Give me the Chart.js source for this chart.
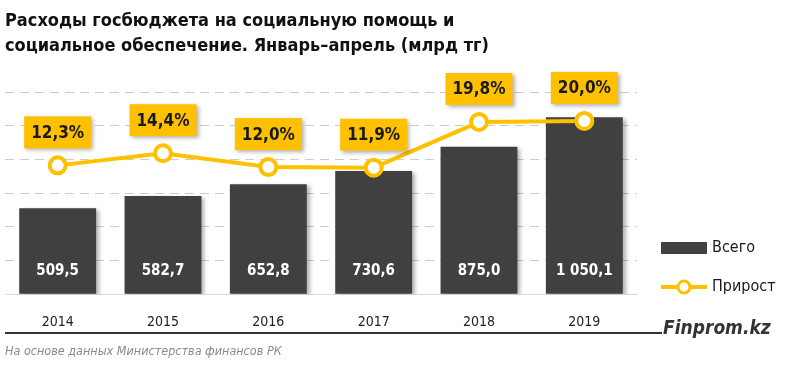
<!DOCTYPE html>
<html>
<head>
<meta charset="utf-8">
<script src="https://cdn.jsdelivr.net/npm/chart.js@4.4.1/dist/chart.umd.min.js"></script>
<style>
    html, body { margin: 0; padding: 0; background: #fff; }
    #wrap { width: 800px; height: 383px; position: relative; }
</style>
</head>
<body>
<div id="wrap"><canvas id="rashodyChart" width="800" height="383"></canvas></div>
<script>
// данные с картинки
const years = ['2014', '2015', '2016', '2017', '2018', '2019'];
const vsego = [509.5, 582.7, 652.8, 730.6, 875.0, 1050.1];
const prirost = [12.3, 14.4, 12.0, 11.9, 19.8, 20.0];

const titleLines = [
    'Расходы госбюджета на социальную помощь и',
    'социальное обеспечение. Январь–апрель (млрд тг)'
];
const legendNames = ['Всего', 'Прирост'];
const sourceText = 'На основе данных Министерства финансов РК';
const brandText = 'Finprom.kz';

const FONT = "'DejaVu Sans Condensed', 'Noto Sans', sans-serif";
const YELLOW = '#FFC000';
const DARK = '#404040';

// 1050.1 -> "1 050,1"
function fmtNum(v) {
    let parts = v.toFixed(1).split('.');
    let int = parts[0].replace(/\B(?=(\d{3})+(?!\d))/g, ' ');
    return int + ',' + parts[1];
}

// тень под столбцами
const shadowPlugin = {
    id: 'shadows',
    beforeDatasetDraw(chart, args) {
        if (args.index === 0) {
            chart.ctx.save();
            chart.ctx.shadowColor = 'rgba(0,0,0,0.3)';
            chart.ctx.shadowBlur = 4;
            chart.ctx.shadowOffsetX = 3;
            chart.ctx.shadowOffsetY = 2;
        }
    },
    afterDatasetDraw(chart, args) {
        if (args.index === 0) chart.ctx.restore();
    }
};

// подписи, легенда, заголовок, источник
const extrasPlugin = {
    id: 'extras',
    afterDraw(chart) {
        const ctx = chart.ctx;
        ctx.save();

        // заголовок
        ctx.fillStyle = '#111';
        ctx.font = 'bold 18px ' + FONT;
        ctx.textAlign = 'left';
        ctx.textBaseline = 'alphabetic';
        ctx.fillText(titleLines[0], 5, 26);
        ctx.fillText(titleLines[1], 5, 51);

        // значения внутри столбцов
        const barMeta = chart.getDatasetMeta(0);
        ctx.font = 'bold 15px ' + FONT;
        ctx.fillStyle = '#fff';
        ctx.textAlign = 'center';
        ctx.textBaseline = 'middle';
        barMeta.data.forEach((bar, i) => {
            ctx.fillText(fmtNum(vsego[i]), bar.x, 271);
        });

        // жёлтые плашки с приростом
        const lineMeta = chart.getDatasetMeta(1);
        ctx.font = 'bold 17px ' + FONT;
        lineMeta.data.forEach((pt, i) => {
            const txt = prirost[i].toFixed(1).replace('.', ',') + '%';
            const w = 67, h = 32;
            const cx = pt.x, cy = pt.y - 33;
            ctx.save();
            ctx.shadowColor = 'rgba(0,0,0,0.3)';
            ctx.shadowBlur = 4;
            ctx.shadowOffsetX = 2;
            ctx.shadowOffsetY = 2;
            ctx.fillStyle = YELLOW;
            ctx.fillRect(cx - w / 2, cy - h / 2, w, h);
            ctx.restore();
            ctx.fillStyle = '#1a1a1a';
            ctx.fillText(txt, cx, cy + 1);
        });

        // легенда
        ctx.fillStyle = DARK;
        ctx.fillRect(661, 242, 46, 12);
        ctx.strokeStyle = YELLOW;
        ctx.lineWidth = 4;
        ctx.beginPath();
        ctx.moveTo(661, 287);
        ctx.lineTo(707, 287);
        ctx.stroke();
        ctx.beginPath();
        ctx.arc(684, 287, 6, 0, Math.PI * 2);
        ctx.fillStyle = '#fff';
        ctx.fill();
        ctx.lineWidth = 3;
        ctx.stroke();
        ctx.fillStyle = '#1a1a1a';
        ctx.font = '16px ' + FONT;
        ctx.textAlign = 'left';
        ctx.fillText(legendNames[0], 712, 248);
        ctx.fillText(legendNames[1], 712, 287);

        // нижняя линия и Finprom.kz
        ctx.strokeStyle = '#333';
        ctx.lineWidth = 2;
        ctx.beginPath();
        ctx.moveTo(5, 333);
        ctx.lineTo(662, 333);
        ctx.stroke();
        ctx.fillStyle = '#333';
        ctx.font = 'italic bold 19px ' + FONT;
        ctx.textBaseline = 'alphabetic';
        ctx.fillText(brandText, 663, 334);

        ctx.fillStyle = '#8a8a8a';
        ctx.font = 'italic 12.5px ' + FONT;
        ctx.fillText(sourceText, 5, 355);

        ctx.restore();
    }
};

new Chart(document.getElementById('rashodyChart'), {
    type: 'bar',
    data: {
        labels: years,
        datasets: [{
            type: 'bar',
            label: legendNames[0],
            data: vsego,
            backgroundColor: DARK,
            barPercentage: 0.73,
            categoryPercentage: 1,
            yAxisID: 'y',
            order: 2
        }, {
            type: 'line',
            label: legendNames[1],
            data: prirost,
            borderColor: YELLOW,
            borderWidth: 4,
            pointRadius: 8,
            pointBorderWidth: 4,
            pointBackgroundColor: '#fff',
            pointBorderColor: YELLOW,
            tension: 0,
            yAxisID: 'y2',
            order: 1
        }]
    },
    options: {
        responsive: false,
        animation: false,
        layout: {
            autoPadding: false,
            padding: { top: 92, left: 5, right: 163, bottom: 32 }
        },
        plugins: {
            legend: { display: false },
            tooltip: { enabled: false },
            title: { display: false }
        },
        scales: {
            x: {
                afterFit: (s) => { s.paddingLeft = 0; s.paddingRight = 0; },
                grid: { display: false, drawTicks: false },
                border: { display: true, color: '#d9d9d9' },
                ticks: {
                    color: '#222',
                    padding: 20,
                    font: { family: FONT, size: 14 }
                }
            },
            y: {
                min: 0,
                max: 1200,
                afterFit: (s) => { s.width = 0; },
                ticks: { display: false, stepSize: 200 },
                grid: {
                    drawTicks: false,
                    color: (c) => c.tick && c.tick.value === 0 ? 'rgba(0,0,0,0)' : '#cccccc',
                    lineWidth: 1
                },
                border: { display: false, dash: [9, 6] }
            },
            y2: {
                display: false,
                min: -10,
                max: 25
            }
        }
    },
    plugins: [shadowPlugin, extrasPlugin]
});
</script>
</body>
</html>
